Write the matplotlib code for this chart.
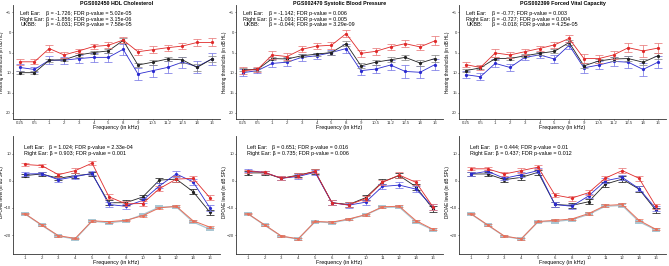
import matplotlib
matplotlib.use("Agg")
import matplotlib.pyplot as plt
import numpy as np

plt.rcParams['font.family'] = ['Liberation Sans', 'DejaVu Sans']

# ---------------- data ----------------
pta_freqs = ["0.25", "0.5", "1", "2", "3", "4", "5", "8", "9", "10.5", "11.2", "12.5", "14", "16"]
dp_freqs = ["1", "2", "3", "4", "5", "6", "8", "10", "11", "12", "14", "16"]

titles = ["PGS002450 HDL Cholesterol", "PGS002470 Systolic Blood Pressure", "PGS002399 Forced Vital Capacity"]

top_stats = [
    [("Left Ear:", "\u03b2 = -1.726; FDR p-value = 5.02e-05"),
     ("Right Ear:", "\u03b2 = -1.856; FDR p-value = 3.15e-06"),
     ("UKBB:", "\u03b2 = -0.031; FDR p-value = 7.58e-05")],
    [("Left Ear:", "\u03b2 = -1.142; FDR p-value = 0.006"),
     ("Right Ear:", "\u03b2 = -1.091; FDR p-value = 0.005"),
     ("UKBB:", "\u03b2 = -0.044; FDR p-value = 3.29e-09")],
    [("Left Ear:", "\u03b2 = -0.77; FDR p-value = 0.003"),
     ("Right Ear:", "\u03b2 = -0.727; FDR p-value = 0.004"),
     ("UKBB:", "\u03b2 = -0.018; FDR p-value = 4.25e-05")],
]
bottom_stats = [
    ["Left Ear:   \u03b2 = 1.024; FDR p-value = 2.33e-04", "Right Ear: \u03b2 = 0.903; FDR p-value = 0.001"],
    ["Left Ear:   \u03b2 = 0.651; FDR p-value = 0.016", "Right Ear: \u03b2 = 0.735; FDR p-value = 0.006"],
    ["Left Ear:   \u03b2 = 0.444; FDR p-value = 0.01", "Right Ear: \u03b2 = 0.437; FDR p-value = 0.012"],
]

# hearing thresholds (dB HL)
pta_red = [
    [7.3, 7.3, 4.0, 5.6, 4.6, 3.5, 3.2, 1.9, 4.8, 4.3, 3.8, 3.4, 2.5, 2.5],
    [9.5, 9.2, 5.6, 6.0, 4.2, 3.4, 3.2, 0.3, 5.2, 4.7, 3.6, 2.8, 3.6, 2.1],
    [8.0, 8.7, 5.1, 5.6, 4.8, 4.0, 3.1, 1.5, 6.5, 6.5, 5.6, 3.8, 4.6, 3.9],
]
pta_red_err = [
    [0.8, 0.6, 0.8, 0.7, 0.6, 0.7, 0.7, 0.8, 0.7, 0.8, 0.7, 0.8, 0.9, 1.0],
    [0.8, 0.6, 1.0, 0.8, 0.7, 0.7, 0.8, 0.9, 0.9, 0.8, 0.7, 0.8, 0.8, 1.1],
    [0.7, 0.6, 1.0, 0.8, 0.7, 0.7, 0.7, 0.9, 1.1, 1.0, 0.9, 1.1, 1.4, 1.3],
]
pta_blue = [
    [8.7, 9.2, 6.9, 6.9, 6.5, 6.2, 6.2, 4.2, 10.3, 9.5, 8.7, 7.4, 8.5, 6.6],
    [10.0, 9.5, 7.7, 7.4, 6.2, 5.8, 5.0, 4.0, 9.5, 9.1, 8.1, 9.7, 9.9, 8.0],
    [10.5, 11.0, 7.7, 8.7, 6.2, 5.6, 6.6, 3.2, 8.8, 8.1, 7.2, 7.4, 9.2, 7.4],
]
pta_blue_err = [
    [0.8, 0.7, 1.0, 0.9, 1.0, 1.1, 1.1, 1.4, 1.4, 1.5, 1.5, 1.4, 1.5, 1.5],
    [0.8, 0.7, 1.0, 1.0, 0.8, 0.8, 0.7, 1.0, 1.2, 1.1, 1.3, 1.5, 1.5, 1.4],
    [0.8, 0.8, 1.0, 0.8, 0.7, 0.8, 1.0, 0.9, 1.2, 1.0, 1.1, 1.5, 1.7, 1.5],
]
pta_black = [
    [10.0, 10.0, 6.9, 6.8, 5.6, 5.0, 4.6, 2.0, 8.1, 7.4, 6.6, 6.8, 8.7, 6.6],
    [9.3, 9.2, 6.5, 6.6, 5.8, 5.4, 5.0, 2.8, 8.3, 7.4, 6.8, 6.2, 7.6, 6.5],
    [9.5, 8.8, 6.5, 6.5, 5.8, 5.2, 4.7, 2.5, 8.3, 7.1, 6.6, 6.5, 7.4, 5.8],
]
pta_black_err = [
    [0.4, 0.4, 0.4, 0.4, 0.4, 0.4, 0.5, 0.6, 0.6, 0.6, 0.6, 0.7, 0.8, 0.8],
    [0.4, 0.4, 0.4, 0.4, 0.4, 0.4, 0.5, 0.6, 0.6, 0.6, 0.6, 0.7, 0.8, 0.8],
    [0.4, 0.4, 0.4, 0.4, 0.4, 0.4, 0.5, 0.6, 0.6, 0.6, 0.6, 0.7, 0.8, 0.8],
]

# DPOAE levels (dB SPL)
dp_red = [
    [6.0, 5.6, 2.25, 3.75, 6.5, -5.9, -8.5, -8.4, -2.9, 0.6, 0.9, -6.25],
    [3.5, 3.1, 0.9, 1.9, 3.5, -8.1, -8.9, -6.6, -0.6, 2.1, -0.6, -9.6],
    [4.4, 4.4, 2.5, 3.75, 5.0, -5.25, -6.4, -4.4, 1.0, 3.75, 0.9, -9.4],
]
dp_blue = [
    [2.5, 2.6, 0.4, 1.5, 2.75, -8.75, -9.4, -7.25, -1.9, 2.5, -0.4, -10.0],
    [3.75, 3.1, 0.9, 1.6, 3.1, -8.1, -9.0, -7.9, -2.1, -1.6, -3.1, -9.6],
    [2.5, 3.5, 0.9, 2.25, 3.75, -8.75, -9.4, -5.6, 0.0, 1.25, -2.9, -10.25],
]
dp_black = [
    [1.9, 2.5, 0.9, 1.9, 2.5, -8.1, -8.1, -6.0, 0.25, 0.6, -4.0, -11.6],
    [2.9, 2.9, 0.9, 2.1, 3.4, -8.1, -8.75, -6.25, -0.4, 1.9, -2.25, -10.4],
    [2.5, 2.5, 0.4, 1.25, 3.1, -8.75, -9.1, -7.75, -1.25, 0.6, -3.1, -10.9],
]
dp_err = [0.6, 0.6, 0.7, 0.8, 0.8, 0.9, 0.9, 0.9, 0.9, 1.0, 1.0, 1.0]
dp_noise_l = [
    [-12.1, -16.25, -20.25, -21.25, -14.75, -15.1, -14.6, -12.9, -10.0, -9.4, -14.75, -17.1],
    [-12.1, -16.25, -20.4, -21.4, -15.0, -15.25, -14.1, -12.5, -9.6, -9.4, -14.75, -17.9],
    [-12.1, -16.25, -20.4, -21.4, -15.0, -14.6, -14.1, -12.1, -9.1, -8.75, -14.6, -17.9],
]
dp_noise_r = [
    [-12.2, -16.4, -20.4, -21.5, -14.9, -15.5, -14.8, -12.5, -9.7, -9.6, -15.2, -17.9],
    [-12.2, -16.4, -20.5, -21.5, -15.1, -15.5, -14.3, -12.6, -9.8, -9.7, -15.2, -18.1],
    [-12.2, -16.4, -20.5, -21.5, -15.1, -15.0, -14.4, -12.4, -9.4, -9.1, -15.1, -18.1],
]
dp_noise_err = [0.3, 0.3, 0.3, 0.3, 0.3, 0.4, 0.3, 0.4, 0.4, 0.4, 0.4, 0.4]

RED, RED_E = '#e02a2a', '#e87a7a'
BLUE, BLUE_E = '#2b2bd0', '#7a7ae6'
BLACK, BLACK_E = '#222222', '#8a8a8a'
SALMON = '#e8705a'
LIGHT = '#a9c6d2'

W, H = 669, 266
fig = plt.figure(figsize=(W / 100, H / 100), dpi=100)

FS = 3.9

def style_axes(ax):
    for s in ['top', 'right']:
        ax.spines[s].set_visible(False)
    for s in ['left', 'bottom']:
        ax.spines[s].set_linewidth(0.6)
        ax.spines[s].set_color('#333333')
    ax.tick_params(labelsize=3.1, length=1.0, width=0.5, pad=0.6, colors='#333333')

def eb(ax, x, y, e, color, ecolor, lw=0.6, ms=1.3, cap=2.6, elw=0.55, z=3):
    ax.errorbar(x, y, yerr=e, color=color, ecolor=ecolor, lw=lw, marker='o', ms=ms,
                capsize=cap, elinewidth=elw, capthick=elw, zorder=z)

def fx(px):
    return px / W

def fy(py):
    return 1 - py / H

for i in range(3):
    x0 = 13 + 223 * i
    # ---- top row: hearing thresholds
    ax = fig.add_axes([fx(x0), fy(119), 207 / W, (119 - 5) / H])
    style_axes(ax)
    xs = np.arange(len(pta_freqs))
    eb(ax, xs, pta_black[i], pta_black_err[i], BLACK, BLACK_E, z=3)
    eb(ax, xs, pta_blue[i], pta_blue_err[i], BLUE, BLUE_E, z=2)
    eb(ax, xs, pta_red[i], pta_red_err[i], RED, RED_E, z=4)
    ax.set_xlim(-0.45, len(pta_freqs) - 0.45)
    ax.set_ylim(21.5, -6.8)
    ax.set_yticks([-5, 0, 5, 10, 15, 20])
    ax.set_xticks(xs)
    ax.set_xticklabels(pta_freqs)
    fig.text(fx(x0 + 103.5), fy(128), "Frequency (in kHz)", fontsize=FS, ha='center', va='center')
    fig.text(fx(x0 - 11.3), fy(62), "Hearing thresholds (in dB HL)", fontsize=3.3,
             rotation=90, ha='center', va='center')
    fig.text(fx(x0 + 103.5), fy(3.2), titles[i], fontsize=FS, fontweight='bold',
             ha='center', va='center')
    for k, (lab, val) in enumerate(top_stats[i]):
        yy = 13.3 + 5.7 * k
        fig.text(fx(x0 + 7.5), fy(yy), lab, fontsize=FS, va='center', ha='left')
        fig.text(fx(x0 + 33), fy(yy), val, fontsize=FS, va='center', ha='left')

    # ---- bottom row: DPOAE
    ax = fig.add_axes([fx(x0), fy(254), 207 / W, (254 - 136) / H])
    style_axes(ax)
    xs = np.arange(len(dp_freqs))
    eb(ax, xs, dp_noise_r[i], dp_noise_err, LIGHT, LIGHT, lw=0.9, ms=0.8, elw=1.4, z=2)
    eb(ax, xs, dp_noise_l[i], dp_noise_err, SALMON, SALMON, lw=0.7, ms=1.0, elw=0.5, z=3)
    eb(ax, xs, dp_black[i], dp_err, BLACK, BLACK, z=4)
    eb(ax, xs, dp_blue[i], dp_err, BLUE, BLUE_E, z=5)
    eb(ax, xs, dp_red[i], dp_err, RED, RED_E, z=6)
    ax.set_xlim(-0.7, len(dp_freqs) - 0.4)
    ax.set_ylim(-27, 16.5)
    ax.set_yticks([-20, -10, 0, 10])
    ax.set_xticks(xs)
    ax.set_xticklabels(dp_freqs)
    fig.text(fx(x0 + 103.5), fy(262.6), "Frequency (in kHz)", fontsize=FS, ha='center', va='center')
    fig.text(fx(x0 - 11.3), fy(192), "DPOAE level (in dB SPL)", fontsize=3.3,
             rotation=90, ha='center', va='center')
    for k, s in enumerate(bottom_stats[i]):
        yy = 148 + 5.8 * k
        fig.text(fx(x0 + 11), fy(yy), s, fontsize=FS, va='center', ha='left')

fig.savefig("out.png", dpi=100)
